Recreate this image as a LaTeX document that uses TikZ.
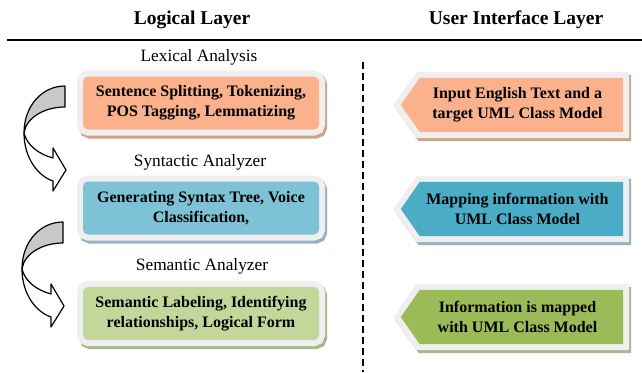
\documentclass[tikz,border=0pt]{standalone}
\usepackage{fontspec}
\setmainfont{Liberation Serif}
\usetikzlibrary{backgrounds}
\definecolor{peach}{RGB}{250,177,140}
\definecolor{peachshade}{RGB}{205,165,130}
\definecolor{skyblue}{RGB}{125,194,214}
\definecolor{uiblue}{RGB}{75,172,198}
\definecolor{blueshade}{RGB}{150,178,192}
\definecolor{sage}{RGB}{196,215,155}
\definecolor{uigreen}{RGB}{155,187,89}
\definecolor{greenshade}{RGB}{170,182,140}
\definecolor{framegray}{RGB}{239,239,239}
\definecolor{arrowgray}{RGB}{200,200,200}
\begin{document}
\begin{tikzpicture}[x=1pt,y=-1pt,
  hdr/.style={font=\fontsize{19.5}{23}\selectfont\bfseries, inner sep=0pt},
  stagelabel/.style={font=\fontsize{17.3}{20}\selectfont, inner sep=0pt},
  btext/.style={font=\fontsize{16}{20}\selectfont\bfseries, align=center},
  ringed/.style={preaction={draw=#1, fill=#1, line width=12pt, transform canvas={shift={(2pt,-3pt)}}},
                 preaction={draw=framegray, line width=12pt}},
  stagebox/.style={ringed=#1, rounded corners=5pt, minimum width=236pt, minimum height=53pt, inner sep=0pt},
  uibody/.style={minimum width=203pt, minimum height=54pt, inner sep=0pt},
  uiarrow/.style={ringed=#1, line join=miter},
  swoop/.style={draw=black, line width=1.2pt, line join=round},
  pics/turnarrow/.style={code={
    % upper (shaded) half of the curved block arrow
    \path[swoop, fill=arrowgray] (65,86) .. controls (42,86) and (24,106) .. (24,133)
      .. controls (26,118) and (44,107) .. (65,107) -- cycle;
    % lower half ending in the arrow head
    \path[swoop, fill=white] (24,133) .. controls (24,158) and (38,176) .. (53,181)
      -- (53,191) -- (66,170) -- (53,148) -- (53,158)
      .. controls (38,154) and (27,145) .. (24,133) -- cycle;
  }},
]
\useasboundingbox (0,0) rectangle (642,372);

% column headings and rule
\node[hdr] (hl) at (192,20) {Logical Layer};
\node[hdr] (hr) at (516,20) {User Interface Layer};
\draw[line width=2.2pt] (7,40) -- (642,40);

% separator between the two layers
\draw[line width=1.8pt, dash pattern=on 7pt off 4pt] (363,62) -- (363,372);

% logical layer: stage names and boxes
\node[stagelabel] (l1) at (199,57) {Lexical Analysis};
\node[stagebox=peachshade, fill=peach, btext] (lex) at (201,103)
  {Sentence Splitting, Tokenizing,\\POS Tagging, Lemmatizing};
\node[stagelabel] (l2) at (200,162) {Syntactic Analyzer};
\node[stagebox=blueshade, fill=skyblue, btext] (syn) at (201,208)
  {Generating Syntax Tree, Voice\\Classification,};
\node[stagelabel] (l3) at (202,266) {Semantic Analyzer};
\node[stagebox=greenshade, fill=sage, btext] (sem) at (201,313.5)
  {Semantic Labeling, Identifying\\relationships, Logical Form};

% curved block arrows between the stages
\pic at (0,0) {turnarrow};
\pic at (-2,136) {turnarrow};

% user interface layer: arrow bodies and their texts
\node[uibody] (ui1) at (521.5,105) {};
\node[uibody] (ui2) at (521.5,209) {};
\node[uibody] (ui3) at (521.5,317) {};
\node[btext] (ui1t) at (517.5,105) {Input English Text and a\\target UML Class Model};
\node[btext] (ui2t) at (517.5,209) {Mapping information with\\UML Class Model};
\node[btext] (ui3t) at (517.5,317) {Information is mapped\\with UML Class Model};

\begin{scope}[on background layer]
  \path[uiarrow=peachshade, fill=peach] ([xshift=-19pt]ui1.west) -- (ui1.north west)
    -- (ui1.north east) -- (ui1.south east) -- (ui1.south west) -- cycle;
  \path[uiarrow=blueshade, fill=uiblue] ([xshift=-19pt]ui2.west) -- (ui2.north west)
    -- (ui2.north east) -- (ui2.south east) -- (ui2.south west) -- cycle;
  \path[uiarrow=greenshade, fill=uigreen] ([xshift=-19pt]ui3.west) -- (ui3.north west)
    -- (ui3.north east) -- (ui3.south east) -- (ui3.south west) -- cycle;
\end{scope}
\end{tikzpicture}
\end{document}
